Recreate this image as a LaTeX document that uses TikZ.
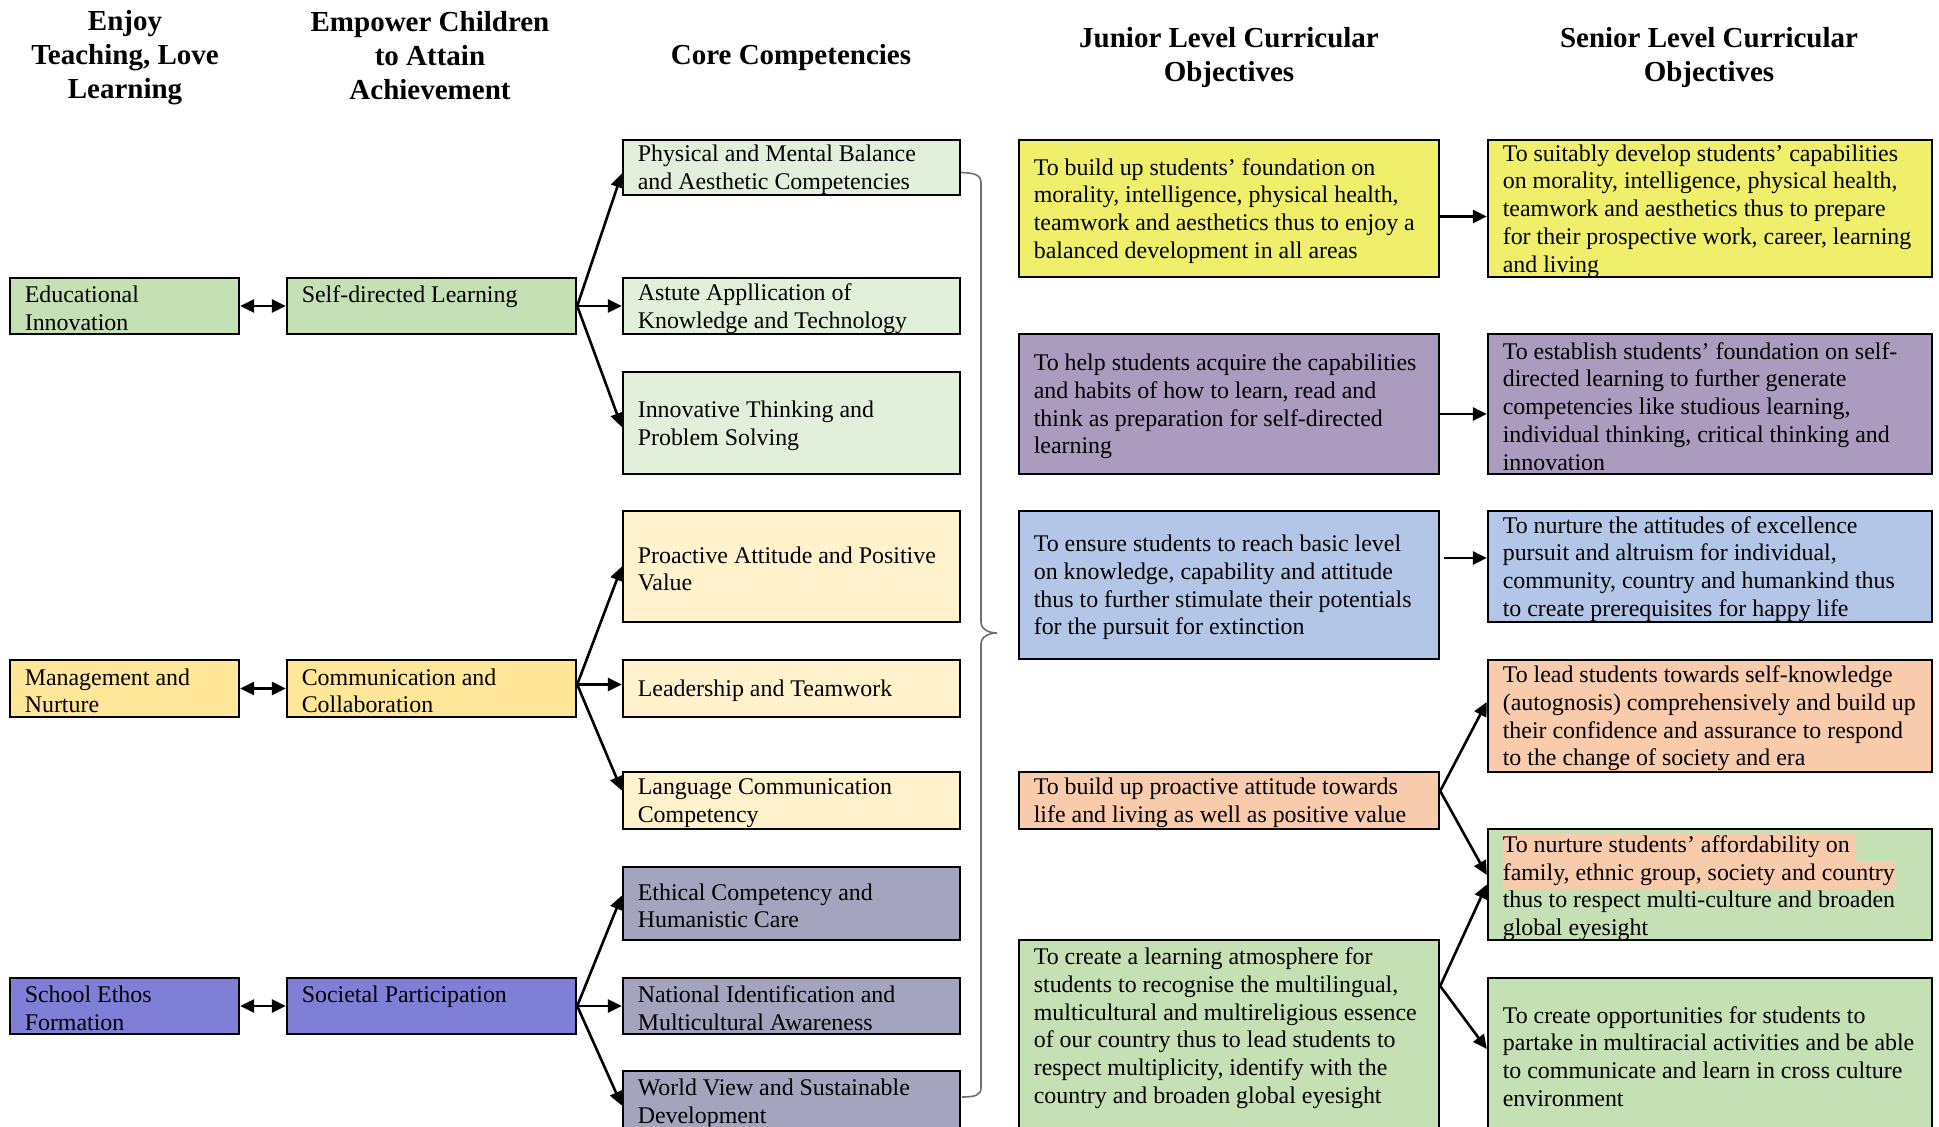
\documentclass[tikz,border=0pt]{standalone}
\usepackage{fontspec}
\setmainfont{Liberation Serif}
\usetikzlibrary{arrows.meta}
\definecolor{gA}{HTML}{C5E0B4}
\definecolor{gB}{HTML}{E2EFDA}
\definecolor{yA}{HTML}{FFE699}
\definecolor{yB}{HTML}{FFF2CC}
\definecolor{bA}{HTML}{7F7FD8}
\definecolor{pB}{HTML}{A5A4BE}
\definecolor{jY}{HTML}{F0EF6C}
\definecolor{jP}{HTML}{AB9BBF}
\definecolor{jB}{HTML}{B4C6E7}
\definecolor{jO}{HTML}{F8CBAD}
\definecolor{brc}{HTML}{707070}
\newcommand\bodyfont{\fontsize{11.95}{13.9}\selectfont}
\newcommand\headfont{\fontsize{14.5}{17}\selectfont\bfseries}
\newcommand\hlt[1]{{\setlength\fboxsep{0pt}\colorbox{jO}{\strut #1}}}
\tikzset{
  bx/.style={draw, line width=1.2pt, inner sep=0pt},
  tx/.style={inner sep=0pt, align=left, font=\bodyfont, text=black},
  hd/.style={align=center, font=\headfont},
  arr/.style={line width=1.3pt, -{Triangle[length=7pt,width=6.5pt]}},
  darr/.style={line width=1.3pt, {Triangle[length=7pt,width=6.5pt]}-{Triangle[length=7pt,width=6.5pt]}},
  brace/.style={draw=brc, line width=0.8pt},
}
\newcommand\mkrect[6]{%
  \pgfmathsetmacro\bcx{(#2+#4)/2}%
  \pgfmathsetmacro\bcy{(#3+#5)/2}%
  \pgfmathsetmacro\bww{(#4-#2)*0.5}%
  \pgfmathsetmacro\bhh{(#5-#3)*0.5}%
  \node[bx, fill=#6, minimum width=\bww pt, minimum height=\bhh pt] (#1) at (\bcx,\bcy) {};%
}
\newcommand\mkbox[7]{%
  \mkrect{#1}{#2}{#3}{#4}{#5}{#6}%
  \node[tx, anchor=west] (#1t) at ([xshift=7.8pt,yshift=-1.2pt]#1.west) {#7};%
}
\newcommand\mktop[7]{%
  \mkrect{#1}{#2}{#3}{#4}{#5}{#6}%
  \node[tx, anchor=north west] (#1t) at ([xshift=7.8pt,yshift=-4.2pt]#1.north west) {#7};%
}
\begin{document}
\begin{tikzpicture}[x=0.5pt,y=-0.5pt]
\useasboundingbox (0,0) rectangle (1939,1126);
\clip (0,0) rectangle (1939,1126);
\fill[white] (0,0) rectangle (1939,1126);

% headers
\node[hd] (h1) at (125,58) {Enjoy\\Teaching, Love\\Learning};
\node[hd] (h2) at (430,56) {Empower Children\\to Attain\\Achievement};
\node[hd] (h3) at (791,58) {Core Competencies};
\node[hd] (h4) at (1229,58) {Junior Level Curricular\\Objectives};
\node[hd] (h5) at (1709,58) {Senior Level Curricular\\Objectives};

% column 1
\mkbox{edu}{10}{278}{239}{334}{gA}{Educational\\Innovation}
\mkbox{man}{10}{660}{239}{717}{yA}{Management and\\Nurture}
\mkbox{sch}{10}{978}{239}{1034}{bA}{School Ethos\\Formation}

% column 2
\mktop{sdl}{287}{278}{576}{334}{gA}{Self-directed Learning}
\mkbox{com}{287}{660}{576}{717}{yA}{Communication and\\Collaboration}
\mktop{soc}{287}{978}{576}{1034}{bA}{Societal Participation}

% core competencies
\mkbox{phy}{623}{140}{960}{195}{gB}{Physical and Mental Balance\\and Aesthetic Competencies}
\mkbox{ast}{623}{278}{960}{334}{gB}{Astute Appllication of\\Knowledge and Technology}
\mkbox{inn}{623}{372}{960}{474}{gB}{Innovative Thinking and\\Problem Solving}
\mkbox{pro}{623}{511}{960}{622}{yB}{Proactive Attitude and Positive\\Value}
\mkbox{lea}{623}{660}{960}{717}{yB}{Leadership and Teamwork}
\mkbox{lan}{623}{772}{960}{829}{yB}{Language Communication\\Competency}
\mkbox{eth}{623}{867}{960}{940}{pB}{Ethical Competency and\\Humanistic Care}
\mkbox{nat}{623}{978}{960}{1034}{pB}{National Identification and\\Multicultural Awareness}
\mktop{wor}{623}{1071}{960}{1140}{pB}{World View and Sustainable\\Development}

% junior
\mkbox{jy}{1019}{140}{1439}{277}{jY}{To build up students’ foundation on\\morality, intelligence, physical health,\\teamwork and aesthetics thus to enjoy a\\balanced development in all areas}
\mkbox{jp}{1019}{334}{1439}{474}{jP}{To help students acquire the capabilities\\and habits of how to learn, read and\\think as preparation for self-directed\\learning}
\mkbox{jb}{1019}{511}{1439}{659}{jB}{To ensure students to reach basic level\\on knowledge, capability and attitude\\thus to further stimulate their potentials\\for the pursuit for extinction}
\mkbox{jo}{1019}{772}{1439}{829}{jO}{To build up proactive attitude towards\\life and living as well as positive value}
\mktop{jg}{1019}{940}{1439}{1140}{gA}{To create a learning atmosphere for\\students to recognise the multilingual,\\multicultural and multireligious essence\\of our country thus to lead students to\\respect multiplicity, identify with the\\country and broaden global eyesight}

% senior
\mkbox{sy}{1488}{140}{1932}{277}{jY}{To suitably develop students’ capabilities\\on morality, intelligence, physical health,\\teamwork and aesthetics thus to prepare\\for their prospective work, career, learning\\and living}
\mkbox{sp}{1488}{334}{1932}{474}{jP}{To establish students’ foundation on self-\\directed learning to further generate\\competencies like studious learning,\\individual thinking, critical thinking and\\innovation}
\mkbox{sb}{1488}{511}{1932}{622}{jB}{To nurture the attitudes of excellence\\pursuit and altruism for individual,\\community, country and humankind thus\\to create prerequisites for happy life}
\mkbox{so}{1488}{660}{1932}{772}{jO}{To lead students towards self-knowledge\\(autognosis) comprehensively and build up\\their confidence and assurance to respond\\to the change of society and era}
\mkbox{sg}{1488}{829}{1932}{940}{gA}{\hlt{To nurture students’ affordability on\ }\\\hlt{family, ethnic group, society and country}\\thus to respect multi-culture and broaden\\global eyesight}
\mkbox{sh}{1488}{978}{1932}{1130}{gA}{To create opportunities for students to\\partake in multiracial activities and be able\\to communicate and learn in cross culture\\environment}

% double arrows
\draw[darr] (edu.east) -- (sdl.west);
\draw[darr] (man.east) -- (com.west);
\draw[darr] (sch.east) -- (soc.west);

% fans to core competencies
\draw[arr] (sdl.east) -- ([yshift=-3pt]phy.west);
\draw[arr] (sdl.east) -- (ast.west);
\draw[arr] (sdl.east) -- ([yshift=-2pt]inn.west);
\draw[arr] ([yshift=2pt]com.east) -- (pro.west);
\draw[arr] ([yshift=2pt]com.east) -- ([yshift=2pt]lea.west);
\draw[arr] ([yshift=2pt]com.east) -- ([yshift=5pt]lan.west);
\draw[arr] (soc.east) -- ([yshift=4pt]eth.west);
\draw[arr] (soc.east) -- (nat.west);
\draw[arr] (soc.east) -- (wor.west);

% brace
\draw[brace] (phy.east) ++(0,5) .. controls (975,173) and (981,175) .. (981,183) -- (981,622) .. controls (981,630) and (990,633) .. (997,633) .. controls (990,633) and (981,636) .. (981,644) -- (981,1088) .. controls (981,1095) and (975,1097) .. (962,1097);

% junior to senior
\draw[arr] ([yshift=-4pt]jy.east) -- ([yshift=-4pt]sy.west);
\draw[arr] ([yshift=-5pt]jp.east) -- ([yshift=-5pt]sp.west);
\draw[arr] ([xshift=2pt,yshift=13.5pt]jb.east) -- ([yshift=4.25pt]sb.west);
\draw[arr] ([yshift=4.75pt]jo.east) -- ([yshift=7pt]so.west);
\draw[arr] ([yshift=4.75pt]jo.east) -- ([yshift=4.75pt]sg.west);
\draw[arr] ([yshift=27pt]jg.east) -- (sg.west);
\draw[arr] ([yshift=27pt]jg.east) -- ([yshift=2.5pt]sh.west);
\end{tikzpicture}
\end{document}
